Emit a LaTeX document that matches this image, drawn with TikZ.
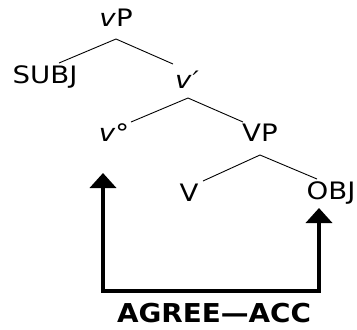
\documentclass[tikz,border=0pt]{standalone}
\usepackage{fontspec}
\setmainfont{DejaVu Sans}
\newfontfamily\treefont[FakeStretch=1.15]{DejaVu Sans}
\newfontfamily\labelfont[FakeStretch=1.07]{DejaVu Sans Bold}
\usetikzlibrary{arrows.meta,calc}
\begin{document}
\begin{tikzpicture}[x=1pt,y=1pt,
  lbl/.style={inner sep=0pt,font=\treefont\fontsize{24}{28}\selectfont},
  branch/.style={line width=0.9pt},
  agree/.style={line width=4pt,
    arrows={Triangle[length=15pt,width=26pt]-Triangle[length=15pt,width=26pt]}},
  ]
  \useasboundingbox (0,0) rectangle (357,-330);
  % tree nodes
  \node[lbl] (vP)   at (116,-18)  {\textit{v}P};
  \node[lbl] (subj) at (45,-77)   {SUBJ};
  \node[lbl] (vbar) at (187,-80)  {\textit{v}\kern1pt\textit{′}};
  \node[lbl] (vo)   at (114,-133) {\textit{v}°};
  \node[lbl] (VP)   at (260,-133) {VP};
  \node[lbl] (V)    at (189,-193) {V};
  \node[lbl] (obj)  at (331,-193) {OBJ};
  % branches
  \draw[branch] ($(vP)+(-57,-45)$) -- ($(vP)+(0,-21)$) -- ($(vP)+(57,-46)$);
  \draw[branch] ($(vbar)+(-56,-42)$) -- ($(vbar)+(1,-18)$) -- ($(vbar)+(56,-42)$);
  \draw[branch] ($(VP)+(-57,-48)$) -- ($(VP)+(0,-22)$) -- ($(VP)+(57,-46)$);
  % agreement path
  \node[inner sep=0pt,font=\labelfont\fontsize{26}{30}\selectfont] (agr) at (214,-313) {AGREE—ACC};
  \coordinate (tipL) at ($(vo)+(-11,-40)$);
  \coordinate (tipR) at ($(obj)+(-12,-15)$);
  \coordinate (base) at (0,-291);
  \draw[agree] (tipL) -- (tipL |- base) -- (tipR |- base) -- (tipR);
\end{tikzpicture}
\end{document}
